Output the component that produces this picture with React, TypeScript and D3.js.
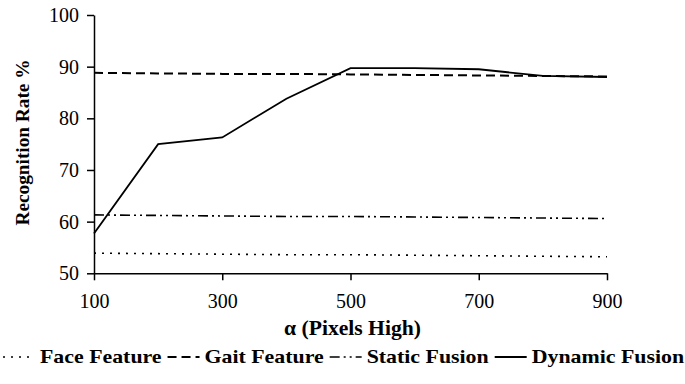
import * as React from 'react';
import * as d3 from 'd3';

const alphas = [100, 200, 300, 400, 500, 600, 700, 800, 900];
const faceFeature = [53.9, 53.8, 53.7, 53.6, 53.6, 53.5, 53.4, 53.3, 53.2];
const gaitFeature = [88.8, 88.7, 88.6, 88.6, 88.5, 88.4, 88.3, 88.2, 88.1];
const staticFusion = [61.3, 61.2, 61.1, 61.0, 61.0, 60.9, 60.8, 60.7, 60.6];
const dynamicFusion = [57.7, 75.0, 76.3, 83.8, 89.7, 89.7, 89.5, 88.2, 88.0];
const xTicks = [100, 300, 500, 700, 900];
const yTicks = [50, 60, 70, 80, 90, 100];
const seriesNames = ['Face Feature', 'Gait Feature', 'Static Fusion', 'Dynamic Fusion'];

const FONT = '"Liberation Serif", "Times New Roman", serif';

// the scanned original is a bit wider than Times, stretch bold text a little
function stretch(t: d3.Selection<SVGTextElement, unknown, null, undefined>, k: number) {
  const w = (t.node() as SVGTextElement).getComputedTextLength();
  t.attr('textLength', w * k).attr('lengthAdjust', 'spacingAndGlyphs');
  return w * k;
}

export default function App() {
  const ref = React.useRef<SVGSVGElement>(null);

  React.useEffect(() => {
    const svg = d3.select(ref.current);
    svg.selectAll('*').remove();

    const x = d3.scaleLinear().domain([100, 900]).range([94, 607]);
    const y = d3.scaleLinear().domain([50, 100]).range([273.3, 15]);

    // axes
    const xAxis = svg.append('g')
      .attr('transform', `translate(0,${y(50)})`)
      .call(d3.axisBottom(x).tickValues(xTicks).tickSize(7).tickSizeOuter(0).tickPadding(14).tickFormat(d3.format('d')));
    const yAxis = svg.append('g')
      .attr('transform', `translate(${x(100)},0)`)
      .call(d3.axisLeft(y).tickValues(yTicks).tickSize(7).tickSizeOuter(0).tickPadding(8).tickFormat(d3.format('d')));
    [xAxis, yAxis].forEach(a => {
      a.selectAll('path, line').attr('stroke', '#000').attr('stroke-width', 1.5);
      a.selectAll('text').attr('font-family', FONT).attr('font-size', 20).attr('fill', '#000');
    });

    const series = [
      { name: seriesNames[0], values: faceFeature, dash: '2,6', width: 1.6 },
      { name: seriesNames[1], values: gaitFeature, dash: '9,5', width: 2 },
      { name: seriesNames[2], values: staticFusion, dash: '10,4,2,4,2,4', width: 1.6 },
      { name: seriesNames[3], values: dynamicFusion, dash: null, width: 1.8 },
    ];

    const line = d3.line<number>()
      .x((_d, i) => x(alphas[i]))
      .y(d => y(d));

    svg.append('g').selectAll('path').data(series).enter().append('path')
      .attr('d', d => line(d.values))
      .attr('fill', 'none')
      .attr('stroke', '#000')
      .attr('stroke-width', d => d.width)
      .attr('stroke-dasharray', d => d.dash);

    // titles
    const xt = svg.append('text')
      .attr('x', 352.5).attr('y', 335)
      .attr('text-anchor', 'middle')
      .attr('font-family', FONT).attr('font-weight', 'bold').attr('font-size', 20)
      .text('α (Pixels High)');
    stretch(xt as any, 1.08);
    const yt = svg.append('text')
      .attr('transform', 'translate(29,142.5) rotate(-90)')
      .attr('text-anchor', 'middle')
      .attr('font-family', FONT).attr('font-weight', 'bold').attr('font-size', 18)
      .text('Recognition Rate %');
    stretch(yt as any, 1.07);

    // legend
    const lg = svg.append('g');
    let cx = 3;
    const ly = 363;
    series.forEach(s => {
      lg.append('line')
        .attr('x1', cx).attr('x2', cx + 32)
        .attr('y1', ly - 6).attr('y2', ly - 6)
        .attr('stroke', '#000').attr('stroke-width', s.width)
        .attr('stroke-dasharray', s.dash);
      cx += 37;
      const t = lg.append('text')
        .attr('x', cx).attr('y', ly)
        .attr('font-family', FONT).attr('font-weight', 'bold').attr('font-size', 19)
        .text(s.name);
      cx += stretch(t as any, 1.15) + 6;
    });
  }, []);

  return (
    <svg ref={ref} width={685} height={384}
      style={{ position: 'absolute', left: 0, top: 0, background: '#fff' }} />
  );
}
